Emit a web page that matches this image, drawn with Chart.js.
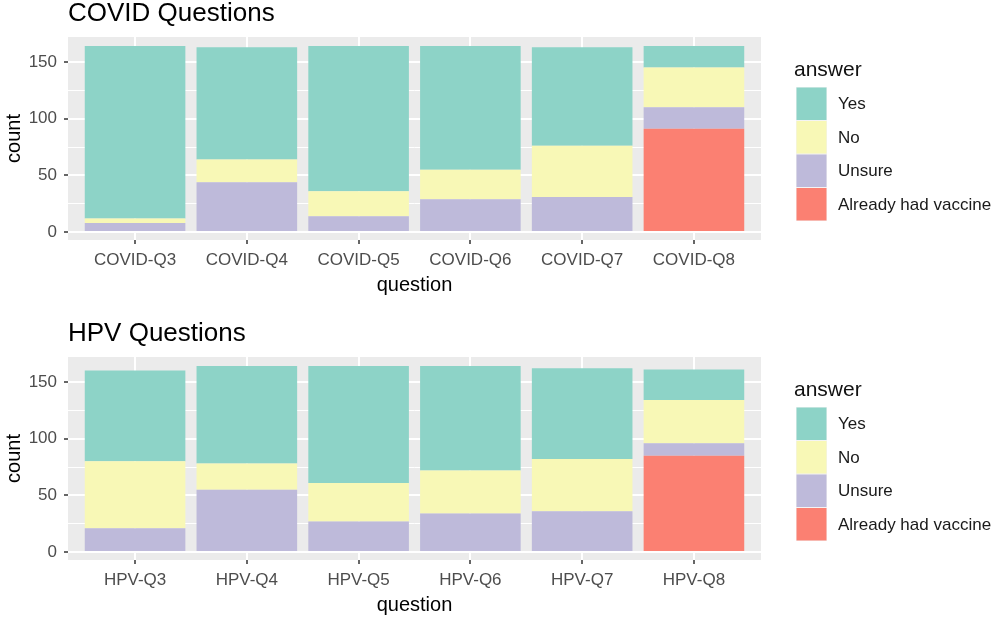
<!DOCTYPE html>
<html>
<head>
<meta charset="utf-8">
<script src="https://cdn.jsdelivr.net/npm/chart.js@4"></script>
<style>
  body { margin: 0; background: #fff; }
  .panel { position: absolute; left: 0; width: 1000px; height: 300px; }
</style>
</head>
<body>
<div class="panel" style="top:0px"><canvas id="chartCovid" width="1000" height="300"></canvas></div>
<div class="panel" style="top:320px"><canvas id="chartHpv" width="1000" height="300"></canvas></div>
<script>
var covidCats = ['COVID-Q3', 'COVID-Q4', 'COVID-Q5', 'COVID-Q6', 'COVID-Q7', 'COVID-Q8'];
var covidYes = [152, 99, 128, 109, 87, 19];
var covidNo = [4, 20, 22, 26, 45, 35];
var covidUnsure = [8, 44, 14, 29, 31, 19];
var covidAlready = [0, 0, 0, 0, 0, 91];

var hpvCats = ['HPV-Q3', 'HPV-Q4', 'HPV-Q5', 'HPV-Q6', 'HPV-Q7', 'HPV-Q8'];
var hpvYes = [80, 86, 103, 92, 80, 27];
var hpvNo = [59, 23, 34, 38, 46, 38];
var hpvUnsure = [21, 55, 27, 34, 36, 11];
var hpvAlready = [0, 0, 0, 0, 0, 85];

var yTicks = [0, 25, 50, 75, 100, 125, 150];
var answers = ['Yes', 'No', 'Unsure', 'Already had vaccine'];
var colors = ['#8DD3C7', '#F8F8B6', '#BEBADA', '#FB8072'];

var FONT = '"Liberation Sans", Arial, sans-serif';

// grey panel background + title + ggplot style legend
var ggPlugin = {
  id: 'gg',
  beforeDraw: function (chart) {
    var a = chart.chartArea;
    var ctx = chart.ctx;
    ctx.save();
    ctx.fillStyle = '#EBEBEB';
    ctx.fillRect(a.left, a.top, a.right - a.left, a.bottom - a.top);
    ctx.restore();
  },
  afterDraw: function (chart) {
    var ctx = chart.ctx;
    var opts = chart.options.plugins.gg;
    ctx.save();
    ctx.fillStyle = '#000';
    ctx.font = '26px ' + FONT;
    ctx.textBaseline = 'alphabetic';
    ctx.textAlign = 'left';
    ctx.fillText(opts.title, chart.chartArea.left, 21);

    // legend
    ctx.font = '21px ' + FONT;
    ctx.fillStyle = '#111';
    ctx.fillText('answer', 794, 76);
    var ds = chart.data.datasets.slice().reverse();
    var y0 = 87, h = 33.5;
    ctx.font = '17px ' + FONT;
    ds.forEach(function (d, i) {
      ctx.fillStyle = '#F2F2F2';
      ctx.fillRect(796, y0 + i * h, 31, h);
      ctx.fillStyle = d.backgroundColor;
      ctx.fillRect(796.5, y0 + i * h + 0.5, 30, h - 1);
      ctx.fillStyle = '#1A1A1A';
      ctx.textBaseline = 'middle';
      ctx.fillText(d.label, 838, y0 + i * h + h / 2 + 1);
    });
    ctx.restore();
  }
};

function makeChart(id, title, cats, yes, no, unsure, already) {
  var series = [already, unsure, no, yes];
  var labels = answers.slice().reverse();
  var cols = colors.slice().reverse();
  var datasets = series.map(function (vals, k) {
    return {
      label: labels[k],
      backgroundColor: cols[k],
      borderWidth: 0,
      barPercentage: 0.9,
      categoryPercentage: 1.0,
      data: vals.map(function (v, i) { return { x: i + 1, y: v }; })
    };
  });

  var ctx = document.getElementById(id).getContext('2d');
  return new Chart(ctx, {
    type: 'bar',
    data: { datasets: datasets },
    plugins: [ggPlugin],
    options: {
      responsive: false,
      animation: false,
      layout: { padding: { top: 37, right: 239, bottom: 0, left: 0 } },
      plugins: {
        legend: { display: false },
        tooltip: { enabled: false },
        gg: { title: title }
      },
      scales: {
        x: {
          type: 'linear',
          stacked: true,
          offset: false,
          min: 0.4,
          max: 6.6,
          afterBuildTicks: function (scale) {
            scale.ticks = cats.map(function (c, i) { return { value: i + 1 }; });
          },
          afterFit: function (scale) { scale.height = 60; },
          border: { display: false },
          grid: {
            offset: false,
            color: '#FFFFFF',
            lineWidth: 2,
            tickLength: 4,
            tickColor: '#333333',
            tickWidth: 1.5
          },
          ticks: {
            padding: 6,
            color: '#4D4D4D',
            font: { family: FONT, size: 17 },
            maxRotation: 0,
            autoSkip: false,
            callback: function (v) { return cats[v - 1]; }
          },
          title: {
            display: true,
            text: 'question',
            color: '#000',
            font: { family: FONT, size: 20 },
            padding: { top: 0, bottom: 3 }
          }
        },
        y: {
          stacked: true,
          min: -7,
          max: 172,
          afterBuildTicks: function (scale) {
            scale.ticks = yTicks.map(function (v) { return { value: v }; });
          },
          afterFit: function (scale) { scale.width = 68; },
          border: { display: false },
          grid: {
            color: '#FFFFFF',
            lineWidth: function (c) { return c.tick && c.tick.value % 50 === 0 ? 2 : 1; },
            tickLength: 4,
            tickColor: function (c) { return c.tick && c.tick.value % 50 === 0 ? '#333333' : 'rgba(0,0,0,0)'; },
            tickWidth: 1.5
          },
          ticks: {
            padding: 7,
            color: '#4D4D4D',
            font: { family: FONT, size: 17 },
            autoSkip: false,
            callback: function (v) { return v % 50 === 0 ? v : ''; }
          },
          title: {
            display: true,
            text: 'count',
            color: '#000',
            font: { family: FONT, size: 20 },
            padding: { top: 2, bottom: 0 }
          }
        }
      }
    }
  });
}

var chart1 = makeChart('chartCovid', 'COVID Questions', covidCats, covidYes, covidNo, covidUnsure, covidAlready);
var chart2 = makeChart('chartHpv', 'HPV Questions', hpvCats, hpvYes, hpvNo, hpvUnsure, hpvAlready);
</script>
</body>
</html>
